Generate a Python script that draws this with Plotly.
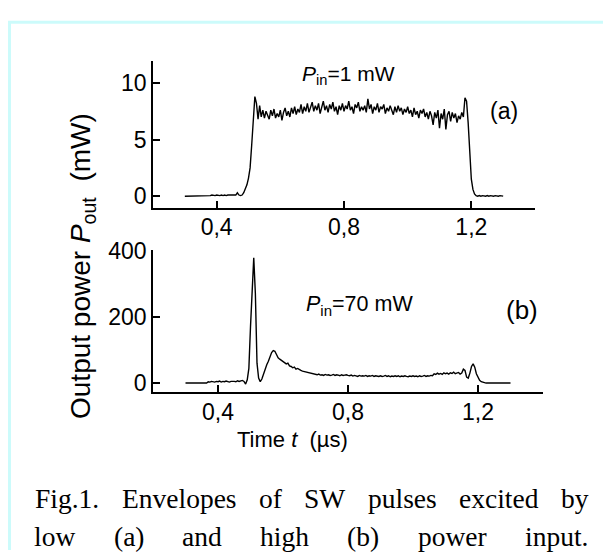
import plotly.graph_objects as go

W, H = 603, 554

# ---------------- data ----------------
t_start = 0.3
t_step = 0.005

# (a) P_in = 1 mW, output power (mW), sampled every 0.005 us from 0.3 us
power_a = [
    0, 0, 0, 0, 0, 0, 0, 0, 0, 0,
    0, 0.05, 0, 0.05, 0.05, 0, 0.05, 0.1, 0.05, 0.05,
    0.1, 0.05, 0.05, 0.1, 0.05, 0.1, 0.05, 0.1, 0.1, 0.05,
    0.1, 0.05, 0.1, 0.3, 0.1, 0.05, 0.1, 0.3, 0.6, 1.0,
    1.6, 2.5, 4.5, 7.0, 8.8, 8.2, 6.8, 8.0, 7.0, 7.6,
    6.9, 7.5, 7.2, 6.8, 7.6, 7.1, 7.7, 6.9, 7.3, 7.0,
    7.6, 6.7, 7.4, 7.8, 7.1, 7.5, 7.0, 7.8, 7.3, 7.9,
    7.2, 7.7, 7.4, 8.1, 7.3, 7.9, 7.5, 8.2, 7.4, 7.8,
    8.3, 7.5, 8.0, 7.6, 8.2, 7.3, 7.9, 8.4, 7.6, 8.0,
    7.4, 8.1, 7.7, 8.3, 7.5, 7.9, 7.2, 8.0, 7.6, 8.2,
    7.5, 8.0, 7.7, 8.4, 7.6, 7.9, 7.3, 8.1, 7.8, 8.3,
    7.5, 7.9, 7.6, 8.0, 7.4, 8.6, 7.7, 8.1, 7.3, 7.9,
    7.6, 8.2, 7.4, 7.9, 7.7, 8.1, 7.3, 7.8, 7.5, 8.0,
    7.6, 7.2, 7.9, 7.4, 8.0, 7.5, 7.8, 7.2, 7.7, 7.4,
    7.9, 7.3, 7.6, 7.0, 7.8, 7.2, 7.5, 6.9, 7.6, 7.3,
    7.7, 7.0, 7.4, 6.8, 7.5, 7.1, 6.3, 7.4, 6.9, 7.6,
    6.0, 7.3, 6.8, 7.7, 5.9, 7.2, 7.5, 6.6, 7.4, 6.9,
    7.3, 6.5, 7.1, 6.8, 7.4, 7.0, 8.7, 8.4, 6.5, 3.5,
    1.5, 0.6, 0.2, 0.05, 0, 0.05, 0, 0.05, 0, 0,
    0.05, 0, 0.05, 0, 0, 0.05, 0, 0, 0.05, 0, 0,
]

# (b) P_in = 70 mW, output power (mW)
power_b = [
    0, 0, 0, 0, 0, 0, 0, 0, 0, 0,
    0, 0, 0, 0, 4, 3, 5, 4, 3, 5,
    4, 6, 3, 5, 4, 6, 5, 3, 5, 6,
    5, 4, 7, 5, 6, 8, 5, -3, 10, 44,
    170, 300, 378, 270, 60, 15, 4, 12, 28, 45,
    55, 66, 80, 92, 98, 96, 86, 76, 72, 68,
    64, 62, 58, 60, 52, 50, 46, 48, 42, 44,
    40, 38, 36, 35, 33, 31, 30, 29, 28, 27,
    26, 25, 27, 24, 25, 23, 26, 24, 25, 23,
    24, 26, 23, 25, 24, 22, 25, 23, 24, 25,
    23, 22, 24, 21, 23, 22, 20, 23, 21, 22,
    21, 23, 20, 22, 21, 23, 20, 22, 21, 20,
    22, 20, 21, 23, 20, 22, 19, 21, 20, 22,
    20, 22, 19, 21, 20, 22, 20, 19, 21, 20,
    22, 20, 21, 19, 22, 20, 21, 23, 20, 22,
    21, 23, 22, 28, 26, 30, 27, 29, 26, 31,
    28, 30, 27, 31, 29, 33, 28, 30, 32, 27,
    30, 42, 38, 18, 15, 30, 50, 58, 48, 28,
    15, 8, 4, 2, 1, 0, 0, 0, 0, 0,
    0, 0, 0, 0, 0, 0, 0, 0, 0, 0, 0,
]

x_tickvals = [0.4, 0.8, 1.2]
x_ticktext = ["0,4", "0,8", "1,2"]
ya_tickvals = [0, 5, 10]
yb_tickvals = [0, 200, 400]

caption_line1 = ["Fig.1.", "Envelopes", "of", "SW", "pulses", "excited", "by"]
caption_line2 = ["low", "(a)", "and", "high", "(b)", "power", "input."]

# ---------------- layout helpers ----------------
def px(x):
    return x / W

def py(y):
    return 1 - y / H

SANS = "Liberation Sans, Arial, sans-serif"
SERIF = "Liberation Serif, Times New Roman, serif"

fig = go.Figure()
fig.add_trace(go.Scatter(x0=t_start, dx=t_step, y=power_a, mode="lines",
                         line=dict(color="black", width=1.4),
                         xaxis="x", yaxis="y", showlegend=False))
fig.add_trace(go.Scatter(x0=t_start, dx=t_step, y=power_b, mode="lines",
                         line=dict(color="black", width=1.4),
                         xaxis="x2", yaxis="y2", showlegend=False))

axis_common = dict(showline=True, linecolor="black", linewidth=1.5,
                   ticks="inside", ticklen=7, tickwidth=1.5, tickcolor="black",
                   showgrid=False, zeroline=False,
                   tickfont=dict(family=SANS, size=23, color="black"))

fig.update_layout(
    width=W, height=H,
    margin=dict(l=0, r=0, t=0, b=0),
    paper_bgcolor="white", plot_bgcolor="rgba(0,0,0,0)",
    showlegend=False,
    xaxis=dict(domain=[px(153), px(535)], range=[0.2, 1.4], anchor="y",
               tickvals=x_tickvals, ticktext=x_ticktext, ticklabelstandoff=-2,
               **axis_common),
    yaxis=dict(domain=[py(201), py(50)], range=[-1.03, 11.9], anchor="x",
               tickvals=ya_tickvals, **axis_common),
    xaxis2=dict(domain=[px(153), px(543)], range=[0.2, 1.4], anchor="y2",
                tickvals=x_tickvals, ticktext=x_ticktext, ticklabelstandoff=-1,
                **axis_common),
    yaxis2=dict(domain=[py(391), py(245)], range=[-27, 400], anchor="x2",
                tickvals=yb_tickvals, **axis_common),
)

# frame (light cyan) on left and top
frame_col = "#ccfbfb"
fig.add_shape(type="line", xref="paper", yref="paper",
              x0=px(9.5), x1=px(9.5), y0=py(9), y1=0,
              line=dict(color=frame_col, width=3))
fig.add_shape(type="line", xref="paper", yref="paper",
              x0=px(8), x1=1, y0=py(9.5), y1=py(9.5),
              line=dict(color=frame_col, width=3))

def ann(text, x, y, size, xanchor="left", family=SANS, angle=0):
    fig.add_annotation(text=text, x=px(x), y=py(y), xref="paper", yref="paper",
                       xanchor=xanchor, yanchor="middle", showarrow=False,
                       textangle=angle,
                       font=dict(family=family, size=size, color="black"))

ann("<i>P</i><sub>in</sub>=1 mW", 300, 64, 21)
ann("(a)", 504, 101, 23, xanchor="center")
ann("<i>P</i><sub>in</sub>=70 mW", 304, 302, 21.5)
ann("(b)", 522, 306, 26, xanchor="center")
ann("Output power <i>P</i><sub>out</sub>&nbsp;&nbsp;(mW)", 83, 261, 28, xanchor="center", angle=-90)
ann("Time <i>t</i>&nbsp;&nbsp;(µs)", 292, 440, 22, xanchor="center")

line1_x = [33, 119.6, 256.6, 301.9, 365.6, 456.8, 558.6]
line2_x = [32, 111.5, 180.2, 258.1, 345.2, 415.5, 522.5]
for w, x in zip(caption_line1, line1_x):
    ann(w, x, 501, 27.5, family=SERIF)
for w, x in zip(caption_line2, line2_x):
    ann(w, x, 540, 27.5, family=SERIF)

fig.write_html("out.html",
               post_script="document.body.style.margin='0';document.body.style.padding='0';")
